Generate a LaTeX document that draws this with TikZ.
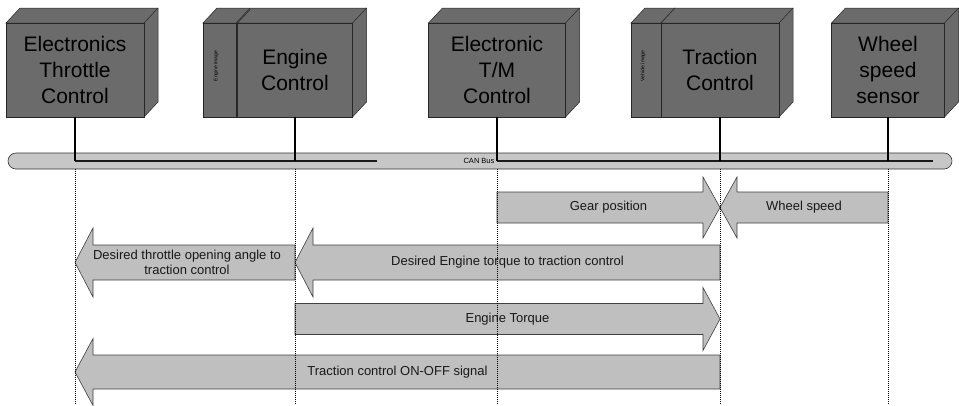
\documentclass[tikz,border=0pt]{standalone}
\usepackage{fontspec}
\setmainfont{Liberation Sans}
\usetikzlibrary{calc}
\newcommand\cubeback[4]{%
  \path[cubeface] (#1,#2) -- (#1+14,#2-15) -- (#3+14,#2-15) -- (#3+14,#4-15) -- (#3,#4) -- (#3,#2) -- cycle;
  \draw[cubeedge] (#3,#2) -- (#3+14,#2-15);}
\newcommand\blockarrow[6]{%
  \pgfmathsetmacro\myBAx{#2-(#6)}%
  \path[blockarrow] (#1,#3-#4) -- (\myBAx,#3-#4) -- (\myBAx,#3-#5) -- (#2,#3) -- (\myBAx,#3+#5) -- (\myBAx,#3+#4) -- (#1,#3+#4) -- cycle;}
\begin{document}
\begin{tikzpicture}[x=1pt,y=-1pt,
  cubeface/.style={draw=black!85, fill=black!58, line width=0.5pt},
  cubeedge/.style={draw=black!85, line width=0.5pt},
  cubefront/.style={cubeface, inner sep=0pt, align=center, font=\fontsize{21}{26}\selectfont, text=black, minimum height=94pt},
  paneltext/.style={font=\fontsize{5}{6}\selectfont, rotate=90, text=black},
  life/.style={line width=1.1pt, black},
  lifedot/.style={line width=0.6pt, black, dash pattern=on 1pt off 1pt},
  blockarrow/.style={draw=black!75, fill=black!25, line width=0.6pt},
  arrowlabel/.style={font=\fontsize{13}{15}\selectfont, align=center, text=black!90},
  busstyle/.style={draw=black!80, fill=black!22, rounded corners=8pt, line width=0.6pt, inner sep=0pt},
  busline/.style={line width=2.5pt, black!90}]
\useasboundingbox (0,0) rectangle (959,405);
\coordinate (bottom) at (0,405);

% ---- boxes ----
\cubeback{6}{23}{144}{117}
\node[cubefront, minimum width=138pt] (etc) at (75,70) {Electronics\\Throttle\\Control};

\cubeback{203}{23}{236}{117}
\node[cubefront, minimum width=33pt] (engpanel) at (219.5,70) {};
\node[paneltext] (engpaneltxt) at (216,66) {Engine image};
\cubeback{237.5}{23}{352.5}{117}
\node[cubefront, minimum width=115pt] (eng) at (295,70) {Engine\\Control};

\cubeback{428.5}{23}{565.5}{117}
\node[cubefront, minimum width=137pt] (tm) at (497,70) {Electronic\\T/M\\Control};

\cubeback{631}{23}{661}{117}
\node[cubefront, minimum width=30pt] (tcpanel) at (646,70) {};
\node[paneltext] (tcpaneltxt) at (643,66) {Vehicle image};
\cubeback{661}{23}{779}{117}
\node[cubefront, minimum width=118pt] (tc) at (720,70) {Traction\\Control};

\cubeback{831.5}{23}{944.5}{117}
\node[cubefront, minimum width=113pt] (wss) at (888,70) {Wheel\\speed\\sensor};

% ---- bus ----
\node[busstyle, minimum width=944pt, minimum height=16pt] (bus) at (480,161) {};
\coordinate (busAend) at (377,161);
\coordinate (busBend) at (933,161);
\draw[busline] (etc.south |- bus.center) -- (busAend);
\draw[busline] (tm.south |- bus.center) -- (busBend);
\node[font=\fontsize{7.5}{8}\selectfont, text=black, inner sep=1pt] (canlbl) at (479,161) {CAN Bus};

\foreach \n in {etc,eng,tm,tc,wss}{
  \draw[life] (\n.south) -- (\n.south |- bus.center);
}

% ---- messages ----
\blockarrow{497}{720}{207.5}{15.5}{30.5}{17}
\node[arrowlabel] (lblgear) at (608.5,207.5) {Gear position};
\blockarrow{888}{720}{207.5}{15.5}{30.5}{-17}
\node[arrowlabel] (lblwheel) at (804,207.5) {Wheel speed};

\blockarrow{720}{295}{262.5}{17.5}{34.5}{-18}
\node[arrowlabel] (lbldesen) at (507.5,262.5) {Desired Engine torque to traction control};
\blockarrow{295}{75}{262.5}{17.5}{34.5}{-18}
\node[arrowlabel] (lbldesth) at (187,262.5) {Desired throttle opening angle to\\traction control};

\blockarrow{295}{720}{319}{15.5}{31.5}{17}
\node[arrowlabel] (lblentq) at (507.5,319) {Engine Torque};

\blockarrow{720}{75}{372}{17}{33.5}{-18}
\node[arrowlabel] (lblonoff) at (397.5,372) {Traction control ON-OFF signal};

% ---- dotted lifelines ----
\foreach \n in {etc,eng,tm,tc,wss}{
  \draw[lifedot] (\n.south |- bus.south) -- (\n.south |- bottom);
}
\end{tikzpicture}
\end{document}
